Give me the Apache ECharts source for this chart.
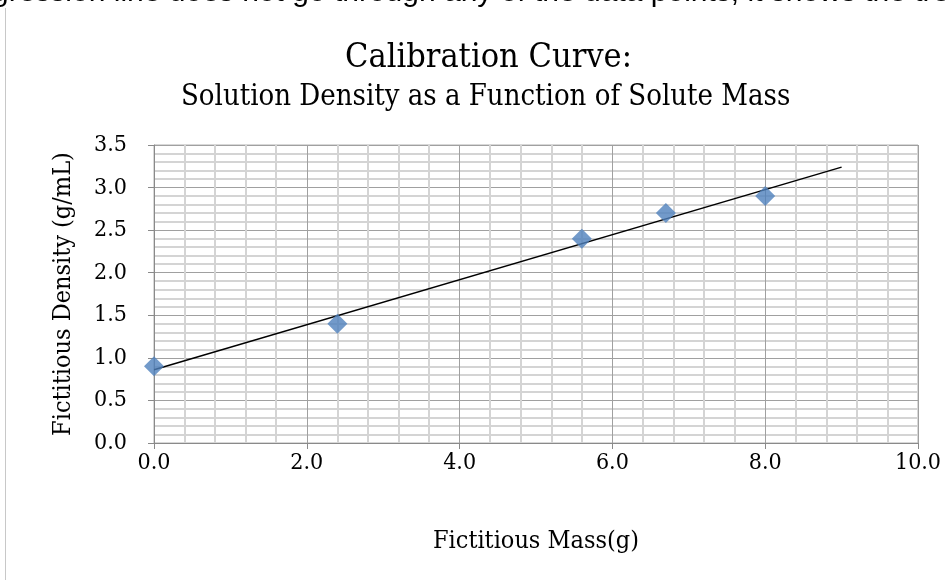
<!DOCTYPE html>
<html>
<head>
<meta charset="utf-8">
<script src="https://cdn.jsdelivr.net/npm/echarts@6/dist/echarts.min.js"></script>
<style>
  html, body { margin: 0; padding: 0; background: #fff; }
  #chart { width: 945px; height: 580px; }
</style>
</head>
<body>
<div id="chart"></div>
<script>
// Data
const massValues = [0.0, 2.4, 5.6, 6.7, 8.0];
const densityValues = [0.9, 1.4, 2.4, 2.7, 2.9];
const trendX = [0.0, 9.0];
const trendY = [0.86, 3.24];
const titleText = 'Calibration Curve:';
const subtitleText = 'Solution Density as a Function of Solute Mass';
const xAxisName = 'Fictitious Mass(g)';
const yAxisName = 'Fictitious Density (g/mL)';
const topCutText = 'gression line does not go through any of the data points, it shows the tre';

const serif = '"DejaVu Serif Condensed", "DejaVu Serif", serif';
const points = massValues.map((x, i) => [x, densityValues[i]]);
const trend = trendX.map((x, i) => [x, trendY[i]]);

const chart = echarts.init(document.getElementById('chart'), null, { renderer: 'canvas' });
chart.setOption({
  backgroundColor: '#ffffff',
  animation: false,
  title: [
    { text: titleText, left: 340, top: 36,
      textStyle: { fontFamily: serif, fontSize: 34, fontWeight: 'normal', color: '#000' } },
    { text: subtitleText, left: 176, top: 78,
      textStyle: { fontFamily: serif, fontSize: 29, fontWeight: 'normal', color: '#000' } }
  ],
  graphic: [
    { type: 'line', shape: { x1: 5.5, y1: 8, x2: 5.5, y2: 580 }, style: { stroke: '#c8c8c8', lineWidth: 1 } },
    { type: 'text', left: -8, top: -22,
      style: { text: topCutText, font: '30px "Liberation Sans", sans-serif', fill: '#000' } }
  ],
  grid: { left: 154, right: 27, top: 145, bottom: 137, containLabel: false,
          show: true, borderColor: '#b0b0b0', borderWidth: 1 },
  xAxis: {
    type: 'value', min: 0, max: 10, interval: 2,
    name: xAxisName, nameLocation: 'middle', nameGap: 86,
    nameTextStyle: { fontFamily: serif, fontSize: 25, color: '#000' },
    axisLine: { show: true, onZero: false, lineStyle: { color: '#8a8a8a', width: 1 } },
    axisTick: { show: true, length: 6, lineStyle: { color: '#8a8a8a' } },
    minorTick: { show: false, splitNumber: 5 },
    axisLabel: { fontFamily: serif, fontSize: 23, color: '#000', margin: 9,
                 formatter: v => v.toFixed(1) },
    splitLine: { show: true, lineStyle: { color: '#a0a0a0', width: 1 } },
    minorSplitLine: { show: true, lineStyle: { color: '#d4d4d4', width: 2 } }
  },
  yAxis: {
    type: 'value', min: 0, max: 3.5, interval: 0.5,
    name: yAxisName, nameLocation: 'middle', nameGap: 78, nameRotate: 90,
    nameTextStyle: { fontFamily: serif, fontSize: 25, color: '#000' },
    axisLine: { show: true, onZero: false, lineStyle: { color: '#8a8a8a', width: 1 } },
    axisTick: { show: true, length: 6, lineStyle: { color: '#8a8a8a' } },
    minorTick: { show: false, splitNumber: 5 },
    axisLabel: { fontFamily: serif, fontSize: 23, color: '#000', margin: 27,
                 padding: [3, 0, 0, 0], formatter: v => v.toFixed(1) },
    splitLine: { show: true, lineStyle: { color: '#a0a0a0', width: 1 } },
    minorSplitLine: { show: true, lineStyle: { color: '#d4d4d4', width: 2 } }
  },
  series: [
    { type: 'line', data: trend, symbol: 'none', silent: true,
      lineStyle: { color: '#000', width: 1.5 }, z: 2 },
    { type: 'scatter', data: points, symbol: 'diamond', symbolSize: [20, 20],
      itemStyle: { color: '#4F81BD' }, z: 3 }
  ]
});
</script>
</body>
</html>
